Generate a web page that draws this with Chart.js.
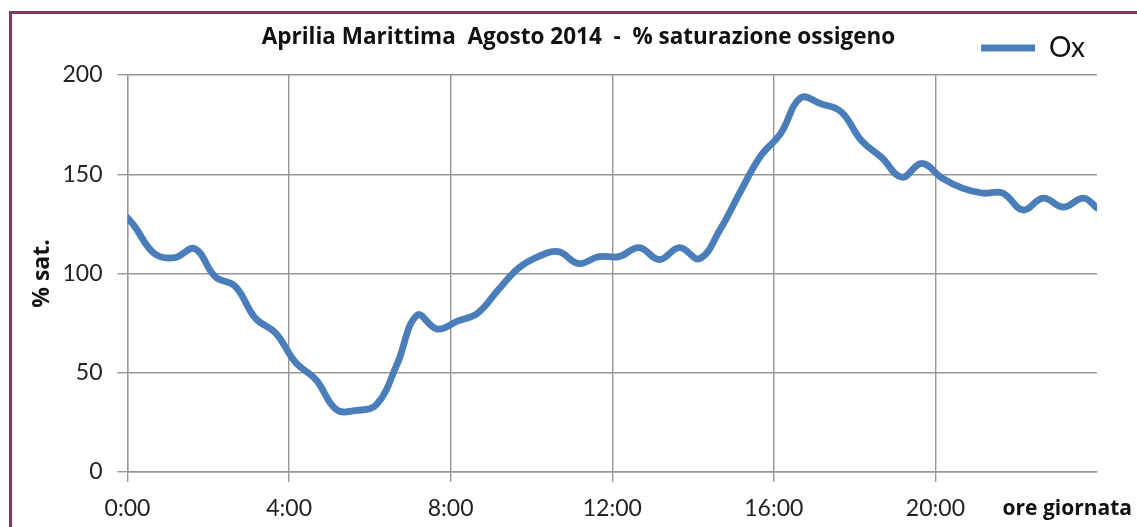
<!DOCTYPE html>
<html>
<head>
<meta charset="utf-8">
<script src="https://cdn.jsdelivr.net/npm/chart.js@4/dist/chart.umd.min.js"></script>
<style>
  html, body { margin: 0; padding: 0; background: #ffffff; }
  #wrap { width: 1137px; height: 527px; }
</style>
</head>
<body>
<div id="wrap"><canvas id="c" width="1137" height="527"></canvas></div>
<script>
// ---- data ----
const chartTitle = 'Aprilia Marittima  Agosto 2014  -  % saturazione ossigeno';
const seriesName = 'Ox';
const yAxisTitle = '% sat.';
const xAxisTitle = 'ore giornata';
const times = ['0:00','0:10','0:40','1:10','1:40','2:10','2:40','3:10','3:40','4:10','4:40',
  '5:10','5:40','6:10','6:40','7:10','7:40','8:10','8:40','9:10','9:40','10:10','10:40',
  '11:10','11:40','12:10','12:40','13:10','13:40','14:10','14:40','15:10','15:40','16:10',
  '16:40','17:10','17:40','18:10','18:40','19:10','19:40','20:10','20:40','21:10','21:40',
  '22:10','22:40','23:10','23:40','24:00'];
const oxValues = [128,124,110,108,112.5,98.5,93.5,77.5,70,55,46.5,
  31.5,31,34,54,79,72,76,80,91.5,102.5,108.5,111,
  105,108.5,108.5,113,107,113,107.5,122,141,159,170.5,
  188.5,185.5,181.5,167,158.5,148.5,155.5,148,143,140.5,140.5,
  132,138,133.5,138,133];
const xTickHours = [0, 4, 8, 12, 16, 20, 24];
const yTicks = [0, 50, 100, 150, 200];

// ---- build ----
const toHours = t => { const p = t.split(':'); return Number(p[0]) + Number(p[1]) / 60; };
const points = times.map((t, i) => ({ x: toHours(t), y: oxValues[i] }));
const lineColor = '#4A7EBB';
const gridColor = '#979797';
const FONT = 'Lato, "Liberation Sans", sans-serif';
const BOLD = '"Open Sans", Lato, sans-serif';

const framePlugin = {
  id: 'frame',
  beforeDraw(chart) {
    const ctx = chart.ctx;
    ctx.save();
    ctx.fillStyle = '#ffffff';
    ctx.fillRect(0, 0, chart.width, chart.height);
    ctx.strokeStyle = '#7C3A60';
    ctx.lineWidth = 3;
    ctx.beginPath();
    ctx.moveTo(10.5, chart.height);
    ctx.lineTo(10.5, 12.5);
    ctx.lineTo(chart.width, 12.5);
    ctx.stroke();
    ctx.restore();
  },
  afterDraw(chart) {
    const ctx = chart.ctx;
    const xs = chart.scales.x;
    ctx.save();
    ctx.font = 'bold 21px ' + BOLD;
    ctx.fillStyle = '#111111';
    ctx.textAlign = 'right';
    ctx.textBaseline = 'middle';
    ctx.fillText(xAxisTitle, 1132, xs.top + 10 + 13 + 13.8);
    ctx.restore();
  }
};

new Chart(document.getElementById('c'), {
  type: 'line',
  data: {
    datasets: [{
      label: seriesName,
      data: points,
      borderColor: lineColor,
      backgroundColor: lineColor,
      borderWidth: 6.8,
      pointRadius: 0,
      tension: 0.4,
      borderCapStyle: 'round',
      borderJoinStyle: 'round',
      clip: 0
    }]
  },
  options: {
    responsive: false,
    animation: false,
    devicePixelRatio: 1,
    layout: { padding: { left: 60, right: 40, top: 22, bottom: 0 } },
    plugins: {
      tooltip: { enabled: false },
      legend: {
        position: 'top',
        align: 'end',
        labels: {
          color: '#111111',
          font: { family: FONT, size: 28 },
          boxWidth: 54,
          boxHeight: 7,
          padding: 12,
          useBorderRadius: true,
          borderRadius: 3.5,
          generateLabels(chart) {
            return chart.data.datasets.map((ds, i) => ({
              text: ds.label,
              fillStyle: ds.borderColor,
              strokeStyle: ds.borderColor,
              lineWidth: 0,
              fontColor: '#111111',
              datasetIndex: i,
              hidden: false
            }));
          }
        }
      },
      title: {
        display: true,
        text: chartTitle,
        weight: 500,
        color: '#111111',
        font: { family: BOLD, size: 22.5, weight: 'bold', lineHeight: 1.2 },
        padding: { top: -47.5, bottom: 23.5 }
      }
    },
    scales: {
      x: {
        type: 'linear',
        min: 0,
        max: 24,
        afterFit(s) { s.height = 55; },
        afterBuildTicks(s) { s.ticks = xTickHours.map(v => ({ value: v })); },
        ticks: {
          color: '#222222',
          font: { family: FONT, size: 23 },
          padding: 13,
          maxRotation: 0,
          autoSkip: false,
          callback: v => (v >= 24 ? '' : v + ':00')
        },
        grid: {
          color: c => (c.tick && c.tick.value >= 24 ? 'rgba(0,0,0,0)' : gridColor),
          lineWidth: 1.4,
          tickLength: 10
        },
        border: { color: gridColor, width: 1.4 }
      },
      y: {
        min: 0,
        max: 200,
        afterFit(s) { s.width = 67.5; },
        afterBuildTicks(s) { s.ticks = yTicks.map(v => ({ value: v })); },
        ticks: {
          color: '#222222',
          font: { family: FONT, size: 23 },
          padding: 15
        },
        grid: { color: gridColor, lineWidth: 1.4, tickLength: 10 },
        border: { color: gridColor, width: 1.4 },
        title: {
          display: true,
          text: yAxisTitle,
          color: '#111111',
          font: { family: BOLD, size: 23, weight: 'bold', lineHeight: 1.2 },
          padding: { top: -31.8, bottom: 0 }
        }
      }
    }
  },
  plugins: [framePlugin]
});
</script>
</body>
</html>
